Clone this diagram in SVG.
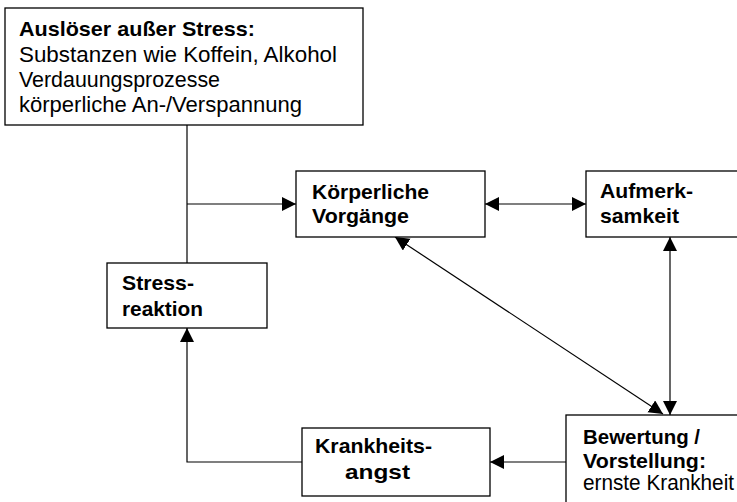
<svg xmlns="http://www.w3.org/2000/svg" width="737" height="502" viewBox="0 0 737 502">
<style>
  .box { fill: #fff; stroke: #000; stroke-width: 1.3; }
  .t { font-family: "Liberation Sans", Arial, sans-serif; font-size: 22px; fill: #000; }
  .b { font-weight: bold; font-size: 21px; }
  .c { fill: none; stroke: #000; stroke-width: 1.2; }
</style>
<defs>
  <marker id="ah" markerUnits="userSpaceOnUse" markerWidth="15" markerHeight="15" refX="14" refY="7" orient="auto-start-reverse">
    <path d="M0,0 L14,7 L0,14 z" fill="#000"/>
  </marker>
</defs>
<rect width="737" height="502" fill="#fff"/>
<g id="connectors">
  <path class="c" d="M187,125 L187,263"/>
  <path class="c" d="M187,204 L296,204" marker-end="url(#ah)"/>
  <path class="c" d="M485,204 L586,204" marker-start="url(#ah)" marker-end="url(#ah)"/>
  <path class="c" d="M670,237 L670,415" marker-start="url(#ah)" marker-end="url(#ah)"/>
  <path class="c" d="M395,237 L663,414" marker-start="url(#ah)" marker-end="url(#ah)"/>
  <path class="c" d="M566,462 L490,462" marker-end="url(#ah)"/>
  <path class="c" d="M302,462 L187,462 L187,328" marker-end="url(#ah)"/>
</g>
<g id="ausloeser">
  <rect class="box" x="5" y="8" width="358" height="117"/>
  <text class="t b" x="19" y="36" textLength="236" lengthAdjust="spacingAndGlyphs">Auslöser außer Stress:</text>
  <text class="t" x="19" y="61.5" textLength="318" lengthAdjust="spacingAndGlyphs">Substanzen wie Koffein, Alkohol</text>
  <text class="t" x="19" y="87" textLength="201" lengthAdjust="spacingAndGlyphs">Verdauungsprozesse</text>
  <text class="t" x="19" y="112" textLength="283" lengthAdjust="spacingAndGlyphs">körperliche An-/Verspannung</text>
</g>
<g id="koerperliche">
  <rect class="box" x="296" y="171" width="189" height="66"/>
  <text class="t b" x="312" y="199" textLength="117" lengthAdjust="spacingAndGlyphs">Körperliche</text>
  <text class="t b" x="312" y="223" textLength="97" lengthAdjust="spacingAndGlyphs">Vorgänge</text>
</g>
<g id="aufmerksamkeit">
  <rect class="box" x="586" y="171" width="180" height="66"/>
  <text class="t b" x="600" y="198" textLength="93" lengthAdjust="spacingAndGlyphs">Aufmerk-</text>
  <text class="t b" x="600" y="223" textLength="79" lengthAdjust="spacingAndGlyphs">samkeit</text>
</g>
<g id="stressreaktion">
  <rect class="box" x="107" y="263" width="160" height="65"/>
  <text class="t b" x="122" y="290" textLength="72" lengthAdjust="spacingAndGlyphs">Stress-</text>
  <text class="t b" x="122" y="316" textLength="81" lengthAdjust="spacingAndGlyphs">reaktion</text>
</g>
<g id="krankheitsangst">
  <rect class="box" x="302" y="428" width="188" height="68"/>
  <text class="t b" x="315" y="453" textLength="117" lengthAdjust="spacingAndGlyphs">Krankheits-</text>
  <text class="t b" x="345" y="479" textLength="65" lengthAdjust="spacingAndGlyphs">angst</text>
</g>
<g id="bewertung">
  <rect class="box" x="566" y="415" width="200" height="100"/>
  <text class="t b" x="583" y="444" textLength="117" lengthAdjust="spacingAndGlyphs">Bewertung /</text>
  <text class="t b" x="583" y="468" textLength="123" lengthAdjust="spacingAndGlyphs">Vorstellung:</text>
  <text class="t" x="583" y="490" textLength="151" lengthAdjust="spacingAndGlyphs">ernste Krankheit</text>
</g>
</svg>
